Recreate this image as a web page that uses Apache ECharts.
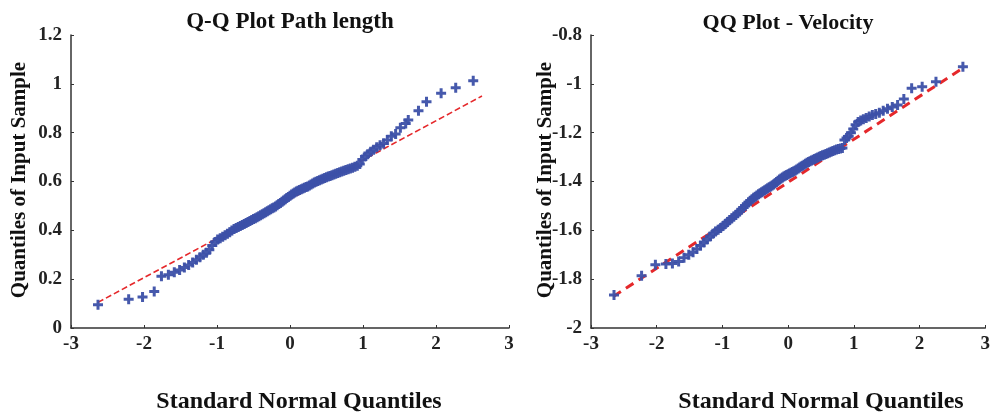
<!DOCTYPE html>
<html>
<head>
<meta charset="utf-8">
<script src="https://cdn.jsdelivr.net/npm/echarts@6/dist/echarts.min.js"></script>
<style>html,body{margin:0;padding:0;background:#fff}#c{width:993px;height:413px}</style>
</head>
<body>
<div id="c"></div>
<script>
// Theoretical standard normal quantiles (x positions)
const quantilesLeft = [-2.63,-2.21,-2.02,-1.86,-1.761,-1.666,-1.585,-1.512,-1.447,-1.388,-1.333,-1.282,-1.234,-1.188,-1.145,-1.105,-1.065,-1.027,-0.991,-0.956,-0.922,-0.889,-0.857,-0.826,-0.796,-0.766,-0.737,-0.709,-0.681,-0.654,-0.627,-0.601,-0.575,-0.549,-0.524,-0.499,-0.475,-0.451,-0.427,-0.403,-0.380,-0.356,-0.333,-0.311,-0.288,-0.265,-0.243,-0.221,-0.198,-0.176,-0.154,-0.131,-0.109,-0.087,-0.065,-0.044,-0.022,0,0.022,0.044,0.065,0.087,0.109,0.131,0.154,0.176,0.198,0.221,0.243,0.265,0.288,0.311,0.333,0.356,0.380,0.403,0.427,0.451,0.475,0.499,0.524,0.549,0.575,0.601,0.627,0.654,0.681,0.709,0.737,0.766,0.796,0.826,0.857,0.889,0.922,0.956,0.991,1.027,1.065,1.105,1.145,1.188,1.234,1.282,1.333,1.388,1.447,1.512,1.585,1.62,1.76,1.87,2.07,2.27,2.51];
const pathLength = [0.095,0.118,0.127,0.150,0.212,0.218,0.228,0.238,0.248,0.258,0.268,0.280,0.290,0.300,0.308,0.320,0.338,0.352,0.362,0.368,0.374,0.380,0.386,0.392,0.399,0.405,0.410,0.414,0.418,0.422,0.426,0.430,0.434,0.438,0.442,0.446,0.450,0.454,0.458,0.462,0.466,0.470,0.474,0.478,0.482,0.486,0.490,0.494,0.498,0.503,0.508,0.512,0.517,0.522,0.527,0.532,0.537,0.542,0.547,0.551,0.555,0.559,0.562,0.565,0.568,0.571,0.574,0.577,0.580,0.584,0.588,0.592,0.596,0.599,0.602,0.605,0.608,0.611,0.614,0.617,0.620,0.623,0.626,0.629,0.632,0.635,0.638,0.641,0.644,0.647,0.650,0.653,0.656,0.660,0.665,0.672,0.690,0.702,0.712,0.722,0.730,0.740,0.748,0.756,0.770,0.785,0.795,0.820,0.838,0.852,0.890,0.927,0.961,0.984,1.013];
const refLineLeft = [[-2.63, 0.105], [2.63, 0.95]];

const quantilesRight = [-2.65,-2.23,-2.02,-1.86,-1.761,-1.666,-1.585,-1.512,-1.447,-1.388,-1.333,-1.282,-1.234,-1.188,-1.145,-1.105,-1.065,-1.027,-0.991,-0.956,-0.922,-0.889,-0.857,-0.826,-0.796,-0.766,-0.737,-0.709,-0.681,-0.654,-0.627,-0.601,-0.575,-0.549,-0.524,-0.499,-0.475,-0.451,-0.427,-0.403,-0.380,-0.356,-0.333,-0.311,-0.288,-0.265,-0.243,-0.221,-0.198,-0.176,-0.154,-0.131,-0.109,-0.087,-0.065,-0.044,-0.022,0,0.022,0.044,0.065,0.087,0.109,0.131,0.154,0.176,0.198,0.221,0.243,0.265,0.288,0.311,0.333,0.356,0.380,0.403,0.427,0.451,0.475,0.499,0.524,0.549,0.575,0.601,0.627,0.654,0.681,0.709,0.737,0.766,0.796,0.826,0.857,0.889,0.922,0.956,0.991,1.027,1.065,1.105,1.145,1.188,1.234,1.282,1.333,1.388,1.447,1.512,1.585,1.666,1.761,1.88,2.04,2.25,2.66];
const velocity = [-1.865,-1.786,-1.741,-1.738,-1.736,-1.728,-1.712,-1.700,-1.690,-1.676,-1.662,-1.650,-1.638,-1.625,-1.614,-1.605,-1.598,-1.590,-1.582,-1.574,-1.566,-1.558,-1.550,-1.543,-1.537,-1.530,-1.522,-1.514,-1.506,-1.499,-1.492,-1.485,-1.479,-1.473,-1.467,-1.462,-1.457,-1.452,-1.448,-1.444,-1.440,-1.436,-1.432,-1.428,-1.424,-1.420,-1.416,-1.412,-1.407,-1.402,-1.397,-1.392,-1.388,-1.384,-1.380,-1.376,-1.373,-1.370,-1.367,-1.364,-1.361,-1.358,-1.355,-1.351,-1.347,-1.343,-1.339,-1.335,-1.331,-1.327,-1.323,-1.320,-1.317,-1.314,-1.311,-1.308,-1.305,-1.302,-1.299,-1.296,-1.293,-1.290,-1.287,-1.284,-1.281,-1.278,-1.275,-1.272,-1.269,-1.267,-1.265,-1.263,-1.230,-1.222,-1.215,-1.200,-1.185,-1.168,-1.156,-1.150,-1.145,-1.140,-1.134,-1.128,-1.124,-1.118,-1.110,-1.102,-1.095,-1.087,-1.062,-1.018,-1.012,-0.991,-0.930];
const refLineRight = [[-2.66, -1.871], [2.69, -0.93]];

const titles = ['Q-Q Plot Path length', 'QQ Plot - Velocity'];
const xName = 'Standard Normal Quantiles';
const yName = 'Quantiles of Input Sample';

const FONT = '"Liberation Serif", "DejaVu Serif", serif';
const plus = 'path://M3.5,0H6.5V3.5H10V6.5H6.5V10H3.5V6.5H0V3.5H3.5Z';
const blue = '#3c50a8';
const red = '#e5282b';

function zip(a, b) { return a.map((v, i) => [v, b[i]]); }

const axisLabel = { fontFamily: FONT, fontWeight: 'bold', fontSize: 19, color: '#222' };
const axisLine = { show: true, onZero: false, lineStyle: { color: '#333', width: 1.5 } };
const axisTick = { show: true, inside: true, length: 3, lineStyle: { color: '#333', width: 1 } };

function xAxis(idx) {
  return { type: 'value', gridIndex: idx, min: -3, max: 3, interval: 1,
    axisLine, axisTick, splitLine: { show: false },
    axisLabel: Object.assign({ margin: 7 }, axisLabel) };
}
function yAxis(idx, min, max) {
  return { type: 'value', gridIndex: idx, min, max, interval: 0.2,
    axisLine, axisTick, splitLine: { show: false },
    axisLabel: Object.assign({ margin: 9, formatter: v => String(+v.toFixed(1)) }, axisLabel) };
}

const chart = echarts.init(document.getElementById('c'), null, { renderer: 'canvas' });
chart.setOption({
  animation: false,
  backgroundColor: '#fff',
  title: [
    { text: titles[0], left: 285, top: 6, textAlign: 'center',
      textStyle: { fontFamily: FONT, fontWeight: 'bold', fontSize: 23, color: '#111' } },
    { text: titles[1], left: 783, top: 7, textAlign: 'center',
      textStyle: { fontFamily: FONT, fontWeight: 'bold', fontSize: 22, color: '#111' } }
  ],
  grid: [
    { left: 71, top: 35, width: 438, height: 293 },
    { left: 591, top: 35, width: 396, height: 293 }
  ],
  xAxis: [xAxis(0), xAxis(1)],
  yAxis: [yAxis(0, 0, 1.2), yAxis(1, -2, -0.8)],
  graphic: [
    { type: 'text', x: 299, y: 402, z: -1, style: { text: xName, font: 'bold 24px ' + FONT, fill: '#111', align: 'center', verticalAlign: 'middle' } },
    { type: 'text', x: 821, y: 402, z: -1, style: { text: xName, font: 'bold 24px ' + FONT, fill: '#111', align: 'center', verticalAlign: 'middle' } },
    { type: 'text', x: 20, y: 180, z: -1, rotation: Math.PI / 2, style: { text: yName, font: 'bold 21px ' + FONT, fill: '#111', align: 'center', verticalAlign: 'middle' } },
    { type: 'text', x: 546, y: 180, z: -1, rotation: Math.PI / 2, style: { text: yName, font: 'bold 21px ' + FONT, fill: '#111', align: 'center', verticalAlign: 'middle' } }
  ],
  series: [
    { type: 'line', xAxisIndex: 0, yAxisIndex: 0, data: refLineLeft, symbol: 'none', z: 1,
      lineStyle: { color: red, width: 1.6, type: [6, 3] } },
    { type: 'scatter', xAxisIndex: 0, yAxisIndex: 0, data: zip(quantilesLeft, pathLength), symbol: plus, symbolSize: 10, z: 2,
      itemStyle: { color: blue, opacity: 0.95 } },
    { type: 'line', xAxisIndex: 1, yAxisIndex: 1, data: refLineRight, symbol: 'none', z: 1,
      lineStyle: { color: red, width: 3, type: [9, 6] } },
    { type: 'scatter', xAxisIndex: 1, yAxisIndex: 1, data: zip(quantilesRight, velocity), symbol: plus, symbolSize: 10, z: 2,
      itemStyle: { color: blue, opacity: 0.95 } }
  ]
});
</script>
</body>
</html>
